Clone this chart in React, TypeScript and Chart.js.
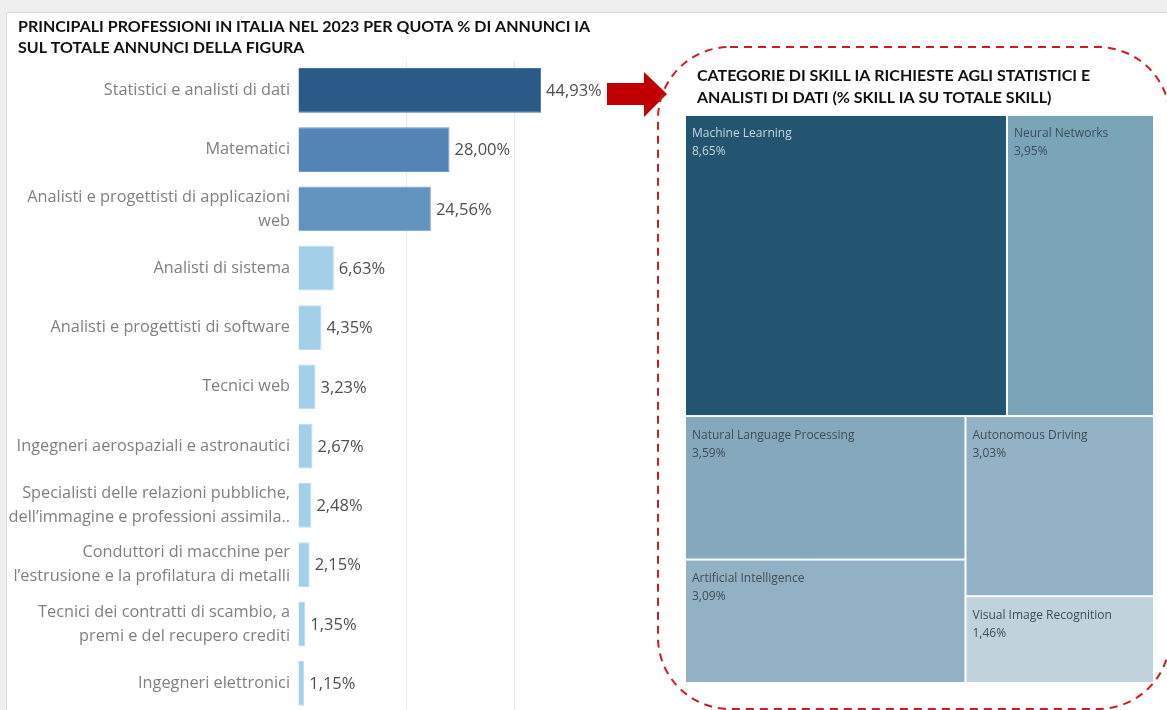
import React, { useEffect, useRef } from 'react';
import { Chart, registerables } from 'chart.js';

Chart.register(...registerables);

// ---------- DATA ----------
const leftTitle = [
  'PRINCIPALI PROFESSIONI IN ITALIA NEL 2023 PER QUOTA % DI ANNUNCI IA',
  'SUL TOTALE ANNUNCI DELLA FIGURA',
];
const professions: (string | string[])[] = [
  'Statistici e analisti di dati',
  'Matematici',
  ['Analisti e progettisti di applicazioni', 'web'],
  'Analisti di sistema',
  'Analisti e progettisti di software',
  'Tecnici web',
  'Ingegneri aerospaziali e astronautici',
  ['Specialisti delle relazioni pubbliche,', 'dell’immagine e professioni assimila..'],
  ['Conduttori di macchine per', 'l’estrusione e la profilatura di metalli'],
  ['Tecnici dei contratti di scambio, a', 'premi e del recupero crediti'],
  'Ingegneri elettronici',
];
const shareValues = [44.93, 28.0, 24.56, 6.63, 4.35, 3.23, 2.67, 2.48, 2.15, 1.35, 1.15];
const gridTickValues = [20, 40];

const rightTitle = [
  'CATEGORIE DI SKILL IA RICHIESTE AGLI STATISTICI E',
  'ANALISTI DI DATI (% SKILL IA SU TOTALE SKILL)',
];
const skillNames = [
  'Machine Learning',
  'Neural Networks',
  'Natural Language Processing',
  'Autonomous Driving',
  'Artificial Intelligence',
  'Visual Image Recognition',
];
const skillValues = [8.65, 3.95, 3.59, 3.03, 3.09, 1.46];
// treemap nesting (indices into skill arrays): rows -> columns -> stacked cells
const treemapRows = [
  [[0], [1]],
  [[2, 4], [3, 5]],
];

// ---------- STYLES ----------
const barColors = ['#2c5a88', '#5384b5', '#6193be', '#a4cfe9', '#a4cfe9', '#a4cfe9', '#a4cfe9', '#a4cfe9', '#a4cfe9', '#a4cfe9', '#a4cfe9'];
const barBorders = ['#4a74a0', '#7199c3', '#7ea7cb', '#bddcef', '#bddcef', '#bddcef', '#bddcef', '#bddcef', '#bddcef', '#bddcef', '#bddcef'];
const skillColors = ['#245570', '#7aa4b8', '#86a8bc', '#93b2c5', '#93b1c4', '#c0d3dd'];
const skillText = ['#c6d4de', '#3f4d58', '#3f4d58', '#3f4d58', '#3f4d58', '#3f4d58'];
const TITLE_FONT = 'Lato, "Noto Sans", sans-serif';
const FONT = '"Open Sans", "Noto Sans", sans-serif';

const fmt = (v: number) => v.toFixed(2).replace('.', ',') + '%';

type Cell = { i: number; x0: number; x1: number; y0: number; y1: number };

function layoutTreemap(): Cell[] {
  const total = skillValues.reduce((a, b) => a + b, 0);
  const cells: Cell[] = [];
  let y = 0;
  treemapRows.forEach((row) => {
    const rowSum = row.flat().reduce((a, i) => a + skillValues[i], 0);
    const rowH = rowSum / total;
    let x = 0;
    row.forEach((col) => {
      const colSum = col.reduce((a, i) => a + skillValues[i], 0);
      const colW = colSum / rowSum;
      let cy = y;
      col.forEach((i) => {
        const h = (skillValues[i] / colSum) * rowH;
        cells.push({ i, x0: x, x1: x + colW, y0: cy, y1: cy + h });
        cy += h;
      });
      x += colW;
    });
    y += rowH;
  });
  return cells;
}

const valueLabelPlugin = {
  id: 'valueLabels',
  afterDatasetsDraw(chart: any) {
    const ctx = chart.ctx;
    const meta = chart.getDatasetMeta(0);
    ctx.save();
    ctx.font = `16.5px ${FONT}`;
    ctx.fillStyle = '#4f4f4f';
    ctx.textAlign = 'left';
    ctx.textBaseline = 'middle';
    meta.data.forEach((bar: any, i: number) => {
      ctx.fillText(fmt(shareValues[i]), bar.x + 5, bar.y + 1);
    });
    ctx.restore();
  },
  afterDraw(chart: any) {
    const ctx = chart.ctx;
    ctx.save();
    ctx.fillStyle = '#111111';
    ctx.font = `bold 16px ${TITLE_FONT}`;
    ctx.textAlign = 'left';
    ctx.textBaseline = 'middle';
    leftTitle.forEach((t, k) => ctx.fillText(t, 11, 14 + k * 21));
    ctx.restore();
  },
};

const treemapPlugin = {
  id: 'treemapCells',
  beforeDatasetsDraw(chart: any) {
    const ctx = chart.ctx;
    const xs = chart.scales.x;
    const ys = chart.scales.y;
    const cells: Cell[] = layoutTreemap();
    ctx.save();
    cells.forEach((c) => {
      const x0 = xs.getPixelForValue(c.x0);
      const x1 = xs.getPixelForValue(c.x1);
      const y0 = ys.getPixelForValue(c.y0);
      const y1 = ys.getPixelForValue(c.y1);
      ctx.fillStyle = skillColors[c.i];
      ctx.fillRect(x0 + 1, y0 + 1, x1 - x0 - 2, y1 - y0 - 2);
      ctx.fillStyle = skillText[c.i];
      ctx.font = `12px ${FONT}`;
      ctx.textAlign = 'left';
      ctx.textBaseline = 'middle';
      ctx.fillText(skillNames[c.i], x0 + 7, y0 + 19);
      ctx.fillText(fmt(skillValues[c.i]), x0 + 7, y0 + 37);
    });
    ctx.restore();
  },
  afterDraw(chart: any) {
    const ctx = chart.ctx;
    ctx.save();
    // title
    ctx.fillStyle = '#111111';
    ctx.font = `bold 16px ${TITLE_FONT}`;
    ctx.textAlign = 'left';
    ctx.textBaseline = 'middle';
    rightTitle.forEach((t, k) => ctx.fillText(t, 97, 63 + k * 22));
    // arrow
    ctx.fillStyle = '#c00000';
    ctx.beginPath();
    ctx.moveTo(7, 70);
    ctx.lineTo(44, 70);
    ctx.lineTo(44, 59);
    ctx.lineTo(67, 81);
    ctx.lineTo(44, 104);
    ctx.lineTo(44, 92);
    ctx.lineTo(7, 92);
    ctx.closePath();
    ctx.fill();
    // dashed rounded frame
    ctx.strokeStyle = '#d41a20';
    ctx.lineWidth = 2;
    ctx.setLineDash([8, 6]);
    ctx.beginPath();
    (ctx as any).roundRect(58, 34, 512, 662, 72);
    ctx.stroke();
    ctx.restore();
  },
};

export default function App() {
  const leftRef = useRef<HTMLCanvasElement>(null);
  const rightRef = useRef<HTMLCanvasElement>(null);

  useEffect(() => {
    const left = new Chart(leftRef.current as HTMLCanvasElement, {
      type: 'bar',
      data: {
        labels: professions,
        datasets: [
          {
            data: shareValues,
            backgroundColor: barColors,
            borderColor: barBorders,
            borderWidth: 1,
            barPercentage: 0.755,
            categoryPercentage: 1,
          },
        ],
      },
      options: {
        indexAxis: 'y',
        animation: false,
        responsive: false,
        maintainAspectRatio: false,
        layout: { padding: { left: 0, right: 14.4, top: 47.7, bottom: 16 } },
        plugins: {
          legend: { display: false },
          tooltip: { enabled: false },
          title: { display: false },
        },
        scales: {
          x: {
            type: 'linear',
            min: 0,
            max: 55,
            ticks: { display: false, stepSize: 20 },
            border: { display: false },
            grid: {
              drawTicks: false,
              color: (c: any) => (gridTickValues.includes(c.tick?.value) ? '#e9e9e9' : 'rgba(0,0,0,0)'),
            },
            afterFit: (s: any) => {
              s.height = 0;
            },
          },
          y: {
            type: 'category',
            ticks: {
              autoSkip: false,
              color: '#7f7f7f',
              padding: 8,
              font: { family: FONT, size: 16.3, lineHeight: 1.48 },
            },
            border: { display: false },
            grid: { display: false, drawTicks: false },
            afterFit: (s: any) => {
              s.width = 291;
            },
          },
        },
      },
      plugins: [valueLabelPlugin],
    } as any);

    const cells = layoutTreemap();
    const right = new Chart(rightRef.current as HTMLCanvasElement, {
      type: 'scatter',
      data: {
        datasets: [
          {
            data: cells.map((c) => ({ x: c.x0, y: c.y0 })),
            pointRadius: 0,
          },
        ],
      },
      options: {
        animation: false,
        responsive: false,
        maintainAspectRatio: false,
        layout: { padding: { left: 85, right: 13, top: 102, bottom: 27 } },
        plugins: { legend: { display: false }, tooltip: { enabled: false } },
        scales: {
          x: { type: 'linear', min: 0, max: 1, display: false },
          y: { type: 'linear', min: 0, max: 1, reverse: true, display: false },
        },
      },
      plugins: [treemapPlugin],
    } as any);

    return () => {
      left.destroy();
      right.destroy();
    };
  }, []);

  return (
    <div
      style={{
        position: 'fixed',
        left: 0,
        top: 0,
        width: 1167,
        height: 710,
        overflow: 'hidden',
        background: '#efefef',
      }}
    >
      <div
        style={{
          position: 'absolute',
          left: 6,
          top: 12,
          width: 1161,
          height: 698,
          background: '#ffffff',
          borderLeft: '1px solid #dddddd',
          borderTop: '1px solid #dddddd',
          boxSizing: 'border-box',
        }}
      />
      <canvas
        ref={leftRef}
        width={603}
        height={720}
        style={{ position: 'absolute', left: 7, top: 13, width: 603, height: 720 }}
      />
      <canvas
        ref={rightRef}
        width={567}
        height={697}
        style={{ position: 'absolute', left: 600, top: 13, width: 567, height: 697 }}
      />
    </div>
  );
}
